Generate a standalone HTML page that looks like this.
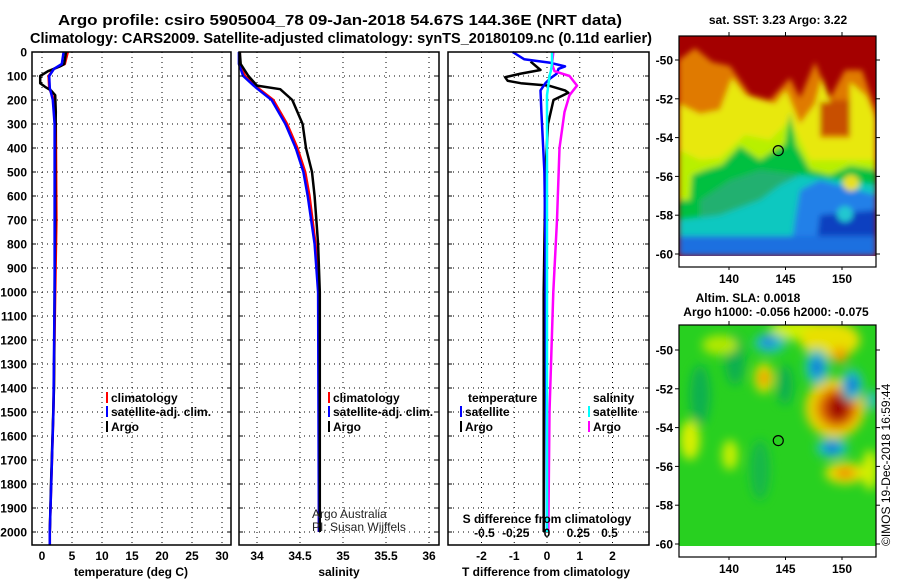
<!DOCTYPE html>
<html><head><meta charset="utf-8"><style>
html,body{margin:0;padding:0;background:#fff;}
svg{display:block;font-family:"Liberation Sans",sans-serif;}
.b{font-weight:bold;font-size:12px;}
</style></head><body>
<svg id="chart" width="900" height="580" viewBox="0 0 900 580" xmlns="http://www.w3.org/2000/svg">
<defs>
<filter id="bl" x="-20%" y="-20%" width="140%" height="140%"><feGaussianBlur stdDeviation="3"/></filter>
<filter id="bl2" x="-30%" y="-30%" width="160%" height="160%"><feGaussianBlur stdDeviation="5"/></filter>
<clipPath id="c1"><rect x="679" y="36" width="197" height="220"/></clipPath>
<clipPath id="c2"><rect x="679" y="325" width="197" height="221"/></clipPath>
</defs>
<text x="340" y="25" text-anchor="middle" font-weight="bold" font-size="15" textLength="564" lengthAdjust="spacingAndGlyphs">Argo profile: csiro 5905004_78 09-Jan-2018 54.67S 144.36E (NRT data)</text>
<text x="341" y="43" text-anchor="middle" font-weight="bold" font-size="14.5" textLength="622" lengthAdjust="spacingAndGlyphs">Climatology: CARS2009. Satellite-adjusted climatology: synTS_20180109.nc (0.11d earlier)</text>

<g id="grids"></g>
<g id="series"></g>
<g id="frames"></g>
<g id="labels"></g>

<!-- SST map -->
<g clip-path="url(#c1)">
<rect x="679" y="36" width="197" height="220" fill="#a40000"/>
<g filter="url(#bl)">
<path fill="#e07a00" d="M679,60 L695,48 L712,62 L730,66 L750,95 L770,100 L790,78 L800,98 L815,62 L830,98 L845,70 L862,70 L876,110 L876,256 L679,256Z"/>
<path fill="#c85000" d="M820,100 L850,100 L850,135 L820,135Z"/>
<path fill="#e8e810" d="M679,104 L700,114 L720,110 L732,78 L745,95 L760,100 L775,104 L786,90 L800,124 L815,104 L822,78 L830,102 L820,102 L820,138 L850,138 L850,82 L866,96 L876,120 L876,256 L679,256Z"/>
<path fill="#b8f000" d="M679,150 L700,160 L720,158 L745,135 L770,140 L790,120 L810,160 L876,160 L876,256 L679,256Z"/>
<path fill="#00c040" d="M679,200 L690,200 L692,175 L705,170 L722,165 L740,146 L760,160 L775,150 L785,145 L790,112 L796,145 L810,170 L830,175 L850,166 L876,170 L876,256 L679,256Z"/>
<path fill="#20b070" d="M700,200 L730,180 L760,170 L800,175 L800,256 L700,256Z"/>
<path fill="#10c8c0" d="M679,220 L720,215 L760,200 L780,185 L800,175 L876,185 L876,256 L679,256Z"/>
<path fill="#2080e8" d="M800,190 L820,180 L876,195 L876,256 L790,256 L795,220Z"/>
<path fill="#1040c0" d="M820,215 L876,210 L876,256 L815,256Z"/>
<rect x="679" y="236" width="197" height="20" fill="#1a70e0"/>
<circle cx="851" cy="183" r="8" fill="#e8e020"/>
<circle cx="845" cy="214" r="8" fill="#20c8d0"/>
</g>
</g>
<!-- SLA map -->
<g clip-path="url(#c2)">
<rect x="679" y="325" width="197" height="221" fill="#28d020"/>
<g filter="url(#bl2)">
<ellipse cx="735" cy="360" rx="10" ry="25" fill="#10b050"/>
<ellipse cx="785" cy="385" rx="8" ry="20" fill="#10b050"/>
<ellipse cx="700" cy="395" rx="10" ry="30" fill="#10b050"/>
<ellipse cx="760" cy="470" rx="10" ry="30" fill="#18b848"/>
<ellipse cx="690" cy="440" rx="10" ry="20" fill="#d8f000"/>
<ellipse cx="730" cy="455" rx="8" ry="15" fill="#c8f000"/>
<ellipse cx="720" cy="345" rx="18" ry="10" fill="#b0e800"/>
<ellipse cx="800" cy="330" rx="30" ry="10" fill="#d0f000"/>
<ellipse cx="830" cy="340" rx="30" ry="18" fill="#e8e000"/>
<ellipse cx="840" cy="355" rx="8" ry="8" fill="#f0a000"/>
<ellipse cx="764" cy="378" rx="10" ry="15" fill="#e0e000"/>
<ellipse cx="764" cy="378" rx="5" ry="8" fill="#f09000"/>
<ellipse cx="770" cy="343" rx="16" ry="10" fill="#20c0c0"/>
<ellipse cx="768" cy="342" rx="6" ry="5" fill="#2070e0"/>
<ellipse cx="835" cy="408" rx="30" ry="30" fill="#e8d000"/>
<ellipse cx="837" cy="408" rx="20" ry="20" fill="#e06000"/>
<ellipse cx="838" cy="408" rx="11" ry="13" fill="#a00000"/>
<ellipse cx="817" cy="367" rx="12" ry="18" fill="#20c0c0"/>
<ellipse cx="817" cy="367" rx="5" ry="9" fill="#1060e0"/>
<ellipse cx="852" cy="385" rx="11" ry="16" fill="#20c0c0"/>
<ellipse cx="852" cy="385" rx="5" ry="8" fill="#1060e0"/>
<ellipse cx="832" cy="448" rx="16" ry="10" fill="#20c0c0"/>
<ellipse cx="832" cy="448" rx="7" ry="5" fill="#1060e0"/>
<ellipse cx="845" cy="473" rx="20" ry="11" fill="#e8e000"/>
<ellipse cx="845" cy="473" rx="10" ry="5" fill="#f08000"/>
<ellipse cx="872" cy="400" rx="6" ry="10" fill="#20c0c0"/>
<ellipse cx="870" cy="470" rx="8" ry="20" fill="#d0f000"/>
</g>
</g>
<g id="maps-frames"></g>
<text x="778" y="24" text-anchor="middle" class="b">sat. SST: 3.23 Argo: 3.22</text>
<text x="748" y="302" text-anchor="middle" class="b">Altim. SLA: 0.0018</text>
<text x="776" y="316" text-anchor="middle" class="b">Argo h1000: -0.056 h2000: -0.075</text>
<text transform="translate(890,546) rotate(-90)" font-size="12">©IMOS 19-Dec-2018 16:59:44</text>
<text x="312" y="518" font-size="12" fill="#222">Argo Australia</text>
<text x="312" y="531" font-size="12" fill="#222">PI: Susan Wijffels</text>
</svg>
<script>
// ---- data ----
const tDepth   = [0, 50, 60, 80, 100, 130, 145, 160, 180, 250, 400, 700, 1000, 1400, 1800, 2000];
const tArgo    = [4.0, 3.7, 3.0, 1.0, -0.3, -0.3, 0.5, 1.5, 2.2, 2.3, 2.2, 2.2, 2.1, 2.0, 1.5, 1.3];
const cDepth   = [0, 50, 70, 100, 150, 200, 300, 700, 1000, 1500, 2000, 2054];
const tClim    = [4.3, 3.8, 2.0, 1.1, 1.2, 2.0, 2.3, 2.4, 2.2, 1.9, 1.3, 1.3];
const tSat     = [3.6, 3.3, 2.0, 1.2, 1.3, 1.8, 2.1, 2.1, 2.1, 1.9, 1.3, 1.3];
const sDepth   = [0, 50, 100, 140, 155, 200, 300, 400, 500, 600, 800, 1000, 2000];
const sArgo    = [33.80, 33.81, 33.90, 34.00, 34.27, 34.41, 34.53, 34.57, 34.64, 34.67, 34.71, 34.73, 34.73];
const sClim    = [33.80, 33.80, 33.86, 33.98, 34.03, 34.19, 34.35, 34.47, 34.56, 34.61, 34.68, 34.72, 34.72];
const sSat     = [33.79, 33.79, 33.84, 33.96, 34.01, 34.17, 34.33, 34.45, 34.54, 34.59, 34.67, 34.71, 34.72];
const dDepthA  = [40, 75, 90, 105, 120, 130, 140, 160, 170, 200, 300, 500, 1000, 2000];
const dTArgo   = [-0.5, -0.2, -0.8, -1.28, -1.2, -0.8, 0.05, 0.55, 0.65, 0.2, 0.03, -0.05, -0.1, -0.1];
const dDepthB  = [0, 30, 45, 60, 70, 90, 110, 130, 160, 250, 500, 800, 2000];
const dTSat    = [-1.05, -0.7, 0.1, 0.55, 0.35, 0.3, 0.1, -0.05, -0.2, -0.17, -0.08, -0.05, 0.0];
const dSDepth  = [0, 50, 80, 100, 140, 180, 250, 400, 700, 1000, 1500, 2000];
const dSArgo   = [0.05, 0.04, 0.06, 0.18, 0.24, 0.18, 0.14, 0.10, 0.08, 0.05, 0.02, 0.01];
const dSSat    = [0.04, 0.04, 0.03, 0.02, 0.01, 0.0, 0.0, 0.0, 0.0, 0.0, 0.0, 0.0];
const depthTicks = [0,100,200,300,400,500,600,700,800,900,1000,1100,1200,1300,1400,1500,1600,1700,1800,1900,2000];
const tTicks = [0,5,10,15,20,25,30];
const sTicks = [34,34.5,35,35.5,36];
const sTickLabels = ["34","34.5","35","35.5","36"];
const dTTicks = [-2,-1,0,1,2];
const dSTicks = [-0.5,-0.25,0,0.25,0.5];
const dSTickLabels = ["-0.5","-0.25","0","0.25","0.5"];
const latTicks = [-50,-52,-54,-56,-58,-60];
const lonTicks = [140,145,150];
const argoLon = 144.36, argoLat = -54.67;

// ---- geometry ----
const NS = "http://www.w3.org/2000/svg";
const PT = 52, PB = 545;
const yD = d => PT + d * 0.24;
const P1 = {l:32, r:231}, P2 = {l:239, r:439}, P3 = {l:448, r:649};
const xT = v => 42 + v * 6;
const xS = v => 257 + (v - 34) * 86;
const xDT = v => 547 + v * 32.75;
const xDS = v => 547 + v * 125;
const M1 = {l:679, r:876, t:36, b:267, y50:60, fillB:256};
const M2 = {l:679, r:876, t:325, b:557, y50:350, fillB:546};
const xLon = v => 729 + (v - 140) * 11.3;
const yLat = (m, v) => m.y50 + (-50 - v) * 19.4;

function mk(tag, attrs, parent){
  const e = document.createElementNS(NS, tag);
  for (const k in attrs) e.setAttribute(k, attrs[k]);
  parent.appendChild(e); return e;
}
function txt(s, attrs, parent){ const e = mk('text', attrs, parent); e.textContent = s; return e; }

const G = document.getElementById('grids'), S = document.getElementById('series'),
      F = document.getElementById('frames'), L = document.getElementById('labels'),
      MF = document.getElementById('maps-frames');

// grids
[[P1, tTicks, xT], [P2, sTicks, xS], [P3, dTTicks, xDT]].forEach(([p, ticks, fx]) => {
  ticks.forEach(t => {
    const gl = mk('line', {x1:fx(t), x2:fx(t), y1:PT, y2:PB, stroke:'#000', 'stroke-width':1, 'stroke-dasharray':'1 4'}, G);
    
    
  });
  depthTicks.slice(1).forEach(d => {
    const gl = mk('line', {x1:p.l, x2:p.r, y1:yD(d), y2:yD(d), stroke:'#000', 'stroke-width':1, 'stroke-dasharray':'1 4'}, G);
    
    
  });
});

// series
function line(xs, ds, fx, color, name){
  const pts = xs.map((v, i) => fx(v).toFixed(1) + ',' + yD(ds[i]).toFixed(1)).join(' ');
  const e = mk('polyline', {points:pts, fill:'none', stroke:color, 'stroke-width':2.5, 'stroke-linejoin':'round'}, S);
  
  
}
line(tClim, cDepth, xT, '#f00', 'temperature-climatology-line');
line(tArgo, tDepth, xT, '#000', 'temperature-argo-line');
line(tSat, cDepth, xT, '#00f', 'temperature-satellite-line');
line(sClim, sDepth, xS, '#f00', 'salinity-climatology-line');
line(sSat, sDepth, xS, '#00f', 'salinity-satellite-line');
line(sArgo, sDepth, xS, '#000', 'salinity-argo-line');
line(dTArgo, dDepthA, xDT, '#000', 'tdiff-argo-line');
line(dTSat, dDepthB, xDT, '#00f', 'tdiff-satellite-line');
line(dSArgo, dSDepth, xDS, '#f0f', 'sdiff-argo-line');
line(dSSat, dSDepth, xDS, '#0ff', 'sdiff-satellite-line');

// frames + ticks
[P1, P2, P3].forEach((p, i) => {
  const r = mk('rect', {x:p.l, y:PT, width:p.r - p.l, height:PB - PT, fill:'none', stroke:'#000', 'stroke-width':1.5}, F);
  
  
  depthTicks.forEach(d => {
    mk('line', {x1:p.l, x2:p.l + 4, y1:yD(d), y2:yD(d), stroke:'#000'}, F);
    mk('line', {x1:p.r - 4, x2:p.r, y1:yD(d), y2:yD(d), stroke:'#000'}, F);
  });
});
depthTicks.forEach(d => {
  const t = txt(String(d), {x:27, y:yD(d) + 4.5, 'text-anchor':'end', class:'b'}, L);
  
  
});
tTicks.forEach(v => {
  const t = txt(String(v), {x:xT(v), y:560, 'text-anchor':'middle', class:'b'}, L);
  
  
});
sTicks.forEach((v, i) => {
  const t = txt(sTickLabels[i], {x:xS(v), y:560, 'text-anchor':'middle', class:'b'}, L);
  
  
});
dTTicks.forEach(v => {
  const t = txt(String(v), {x:xDT(v), y:560, 'text-anchor':'middle', class:'b'}, L);
  
  
});
dSTicks.forEach((v, i) => {
  const t = txt(dSTickLabels[i], {x:xDS(v), y:537, 'text-anchor':'middle', class:'b'}, L);
  
  
});
function plain(s, x, y, anchor, name){
  const t = txt(s, {x:x, y:y, 'text-anchor':anchor, class:'b'}, L);
  
  
}
plain('temperature (deg C)', 131, 576, 'middle', 'temperature-axis-title');
plain('salinity', 339, 576, 'middle', 'salinity-axis-title');
plain('T difference from climatology', 546, 576, 'middle', 'tdiff-axis-title');
plain('S difference from climatology', 547, 523, 'middle', 'sdiff-axis-title');

// legends
function leg(x, y, color, label, name){
  const b = mk('rect', {x:x, y:y - 10, width:2, height:11, fill:color}, L);
  
  
  const t = txt(label, {x:x + 5, y:y, class:'b'}, L);
  
  
}
leg(106, 402, '#f00', 'climatology', 'legend-climatology');
leg(106, 416, '#00f', 'satellite-adj. clim.', 'legend-satellite-adj');
leg(106, 431, '#000', 'Argo', 'legend-argo');
leg(328, 402, '#f00', 'climatology', 'legend-s-climatology');
leg(328, 416, '#00f', 'satellite-adj. clim.', 'legend-s-satellite-adj');
leg(328, 431, '#000', 'Argo', 'legend-s-argo');
plain('temperature', 468, 402, 'start', 'legend-temperature-header');
leg(460, 416, '#00f', 'satellite', 'legend-t-satellite');
leg(460, 431, '#000', 'Argo', 'legend-t-argo');
plain('salinity', 593, 402, 'start', 'legend-salinity-header');
leg(588, 416, '#0ff', 'satellite', 'legend-s-sat');
leg(588, 431, '#f0f', 'Argo', 'legend-s-argo-diff');

// map frames/ticks
[M1, M2].forEach((m, i) => {
  mk('rect', {x:m.l, y:m.fillB, width:m.r - m.l, height:m.b - m.fillB, fill:'#fff'}, MF);
  const r = mk('rect', {x:m.l, y:m.t, width:m.r - m.l, height:m.b - m.t, fill:'none', stroke:'#000', 'stroke-width':1.2}, MF);
  
  
  latTicks.forEach(v => {
    const y = yLat(m, v);
    mk('line', {x1:m.l - 4, x2:m.l, y1:y, y2:y, stroke:'#000'}, MF);
    mk('line', {x1:m.r, x2:m.r + 4, y1:y, y2:y, stroke:'#000'}, MF);
    const t = txt(String(v), {x:m.l - 6, y:y + 4.5, 'text-anchor':'end', class:'b'}, MF);
    
    
  });
  lonTicks.forEach(v => {
    const x = xLon(v);
    mk('line', {x1:x, x2:x, y1:m.t - 4, y2:m.t, stroke:'#000'}, MF);
    mk('line', {x1:x, x2:x, y1:m.b, y2:m.b + 3, stroke:'#000'}, MF);
    const t = txt(String(v), {x:x, y:m.b + 16, 'text-anchor':'middle', class:'b', 'font-size':'13'}, MF);
    
    
  });
  const c = mk('circle', {cx:xLon(argoLon), cy:yLat(m, argoLat), r:5, fill:'none', stroke:'#000', 'stroke-width':1.2}, MF);
  
  
});
// left edge ticks of panel 3 right side for map1 y labels are drawn above
</script>
</body></html>
